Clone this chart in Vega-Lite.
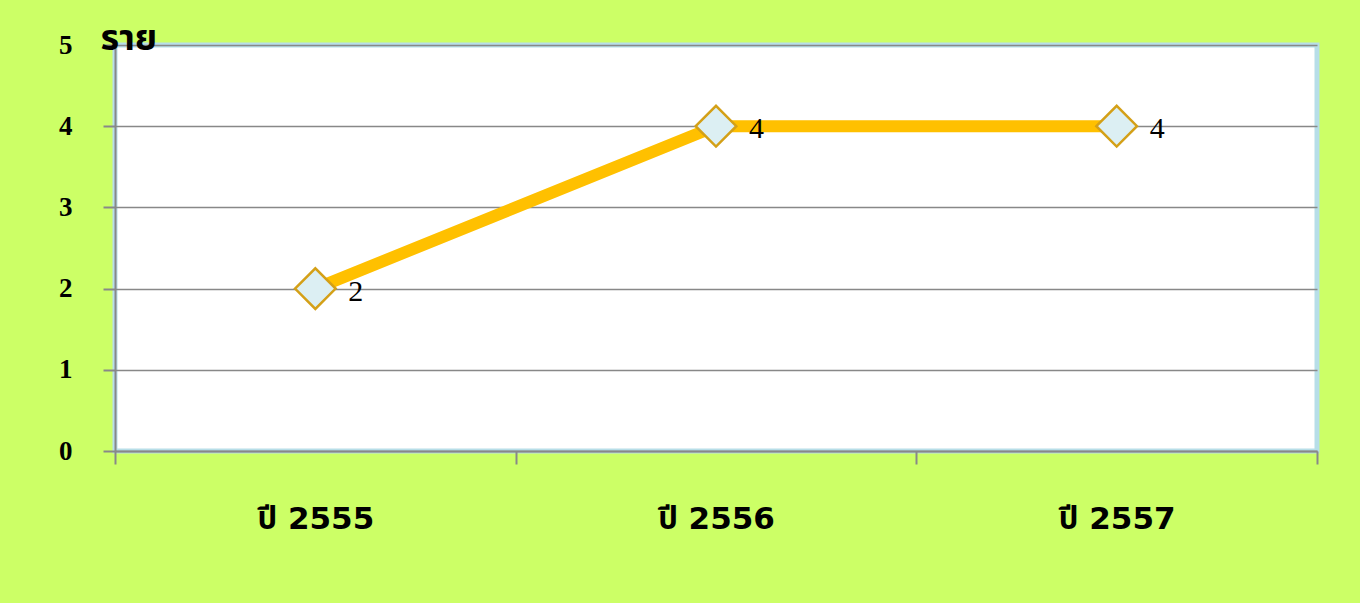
{
  "$schema": "https://vega.github.io/schema/vega-lite/v6.json",
  "width": 1202,
  "height": 406,
  "autosize": {"type": "none"},
  "padding": {"left": 115, "top": 45, "right": 43, "bottom": 152},
  "background": "#CCFF66",
  "data": {"values": [
    {"year": "ปี 2555", "cases": 2},
    {"year": "ปี 2556", "cases": 4},
    {"year": "ปี 2557", "cases": 4}
  ]},
  "config": {
    "view": {"fill": "white", "stroke": "#B7DEE8", "strokeWidth": 5},
    "axisY": {"labelFontSize": 27, "labelFont": "Liberation Serif", "labelFontWeight": "bold"}
  },
  "encoding": {
    "x": {
      "field": "year", "type": "nominal", "sort": null,
      "scale": {"paddingInner": 0, "paddingOuter": 0},
      "axis": {
        "title": null, "labelAngle": 0, "tickBand": "extent",
        "domainColor": "#888888", "domainWidth": 2, "tickColor": "#888888", "tickWidth": 2, "tickSize": 13,
        "labelFont": "DejaVu Sans, Noto Sans Thai, Noto Sans", "labelFontWeight": "bold", "labelFontSize": 31,
        "labelColor": "black", "labelPadding": 40, "grid": false
      }
    },
    "y": {
      "field": "cases", "type": "quantitative",
      "scale": {"domain": [0, 5], "nice": false},
      "axis": {
        "title": "ราย", "titleAngle": 0, "titleAlign": "left", "titleBaseline": "alphabetic",
        "titleX": -15, "titleY": 4, "titleFont": "Noto Sans Thai, Noto Sans, DejaVu Sans", "titleFontSize": 36,
        "titleFontWeight": "bold", "titleColor": "black",
        "values": [0, 1, 2, 3, 4, 5], "labelOverlap": false,
        "domainColor": "#888888", "domainWidth": 2, "tickColor": "#888888", "tickWidth": 2, "tickSize": 12,
        "gridColor": "#888888", "gridWidth": 1.5,
        "labelColor": "black", "labelPadding": 31
      }
    }
  },
  "layer": [
    {"mark": {"type": "line", "color": "#FFC000", "strokeWidth": 12}},
    {"mark": {"type": "point", "shape": "diamond", "size": 1650, "filled": true, "fill": "#DCEFF3", "stroke": "#D4A017", "strokeWidth": 2.5, "opacity": 1}},
    {"mark": {"type": "text", "align": "left", "baseline": "middle", "dx": 33, "dy": 3, "font": "Liberation Serif", "fontSize": 30, "color": "black"},
     "encoding": {"text": {"field": "cases", "type": "quantitative"}}}
  ]
}
